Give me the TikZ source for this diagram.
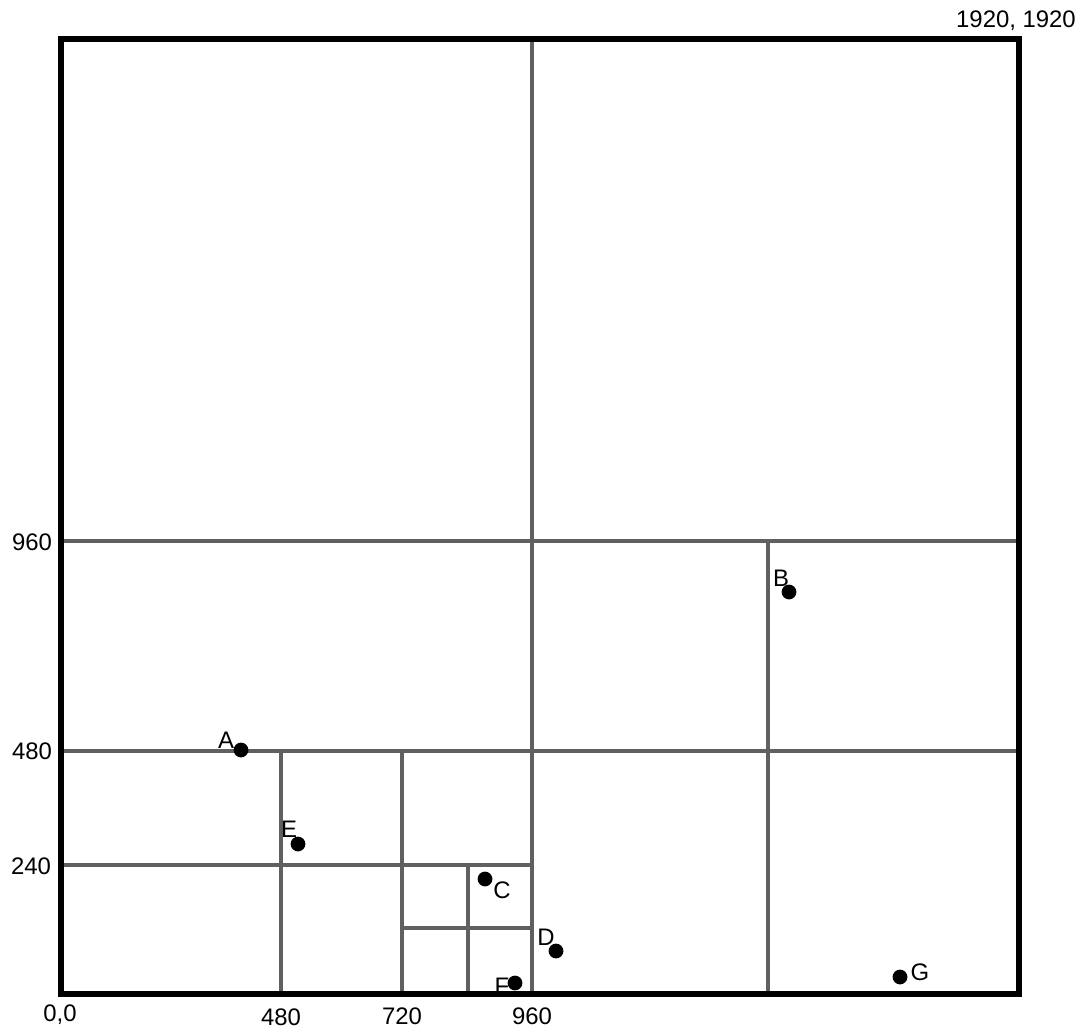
\documentclass[tikz,border=0pt]{standalone}
\usepackage{fontspec}
\setmainfont{Liberation Sans}
\usepackage{tikz}
\usepackage{xcolor}
\usetikzlibrary{positioning}
\definecolor{gridgray}{HTML}{606060}

\begin{document}
\begin{tikzpicture}[
          x=0.025cm, y=-0.025cm,
          lbl/.style={font=\fontsize{17}{20}\selectfont, inner sep=0pt},
          pt/.style={circle, fill=black, inner sep=0pt, minimum size=0.37cm},
          split/.style={draw=gridgray, line width=2.3pt},
          border/.style={draw=black, line width=3.9pt}
      ]
        \useasboundingbox (0,0) rectangle (1079,1031);
        % splitting lines
        \draw[split] (61,541) -- (1019,541);
        \draw[split] (61,751) -- (1019,751);
        \draw[split] (61,865) -- (532,865);
        \draw[split] (402,928) -- (532,928);
        \draw[split] (532,39) -- (532,994);
        \draw[split] (768,541) -- (768,994);
        \draw[split] (281,751) -- (281,994);
        \draw[split] (402,751) -- (402,994);
        \draw[split] (468,863) -- (468,994);
        \draw[border] (61,39) rectangle (1019,994);
        % axis values
        \node[lbl] at (1016,21) {1920, 1920};
        \node[lbl] at (60,1015) {0,0};
        \node[lbl] at (281,1017) {480};
        \node[lbl] at (402,1016) {720};
        \node[lbl] at (532,1016) {960};
        \node[lbl] at (32,542) {960};
        \node[lbl] at (32,751) {480};
        \node[lbl] at (31,866) {240};
        % points
        \node[pt] (A) at (241,750) {};
        \node[pt] (B) at (789,592) {};
        \node[pt] (C) at (485,879) {};
        \node[pt] (D) at (556,951) {};
        \node[pt] (E) at (298,844) {};
        \node[pt] (F) at (515,983) {};
        \node[pt] (G) at (900,977) {};
        \node[lbl] at (226,740) {A};
        \node[lbl] at (781,578) {B};
        \node[lbl] at (502,890) {C};
        \node[lbl] at (546,937) {D};
        \node[lbl] at (289,829) {E};
        \node[lbl] at (502,986) {F};
        \node[lbl] at (920,972) {G};
      \end{tikzpicture}
\end{document}
